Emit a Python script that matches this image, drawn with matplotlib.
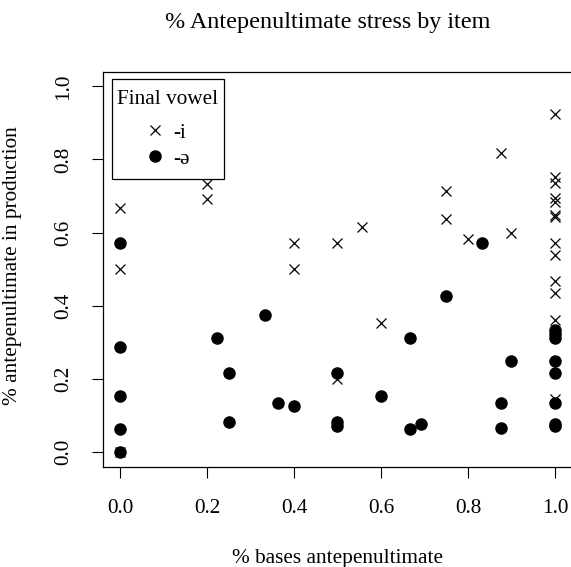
import matplotlib
matplotlib.use("Agg")
import matplotlib.pyplot as plt
from matplotlib.patches import Rectangle

plt.rcParams['font.family'] = ['Liberation Serif', 'DejaVu Serif']

# -i final vowel items (x = % bases antepenultimate, y = % antepenultimate in production)
i_x = [0, 0, 0, 0.2, 0.2, 0.4, 0.4, 0.5, 0.5, 0.556, 0.6, 0.75, 0.75, 0.8, 0.875, 0.9,
       1, 1, 1, 1, 1, 1, 1, 1, 1, 1, 1, 1, 1]
i_y = [0.667, 0.5, 0.0, 0.733, 0.692, 0.571, 0.5, 0.571, 0.2, 0.615, 0.353, 0.714, 0.637,
       0.583, 0.818, 0.6,
       0.925, 0.752, 0.735, 0.695, 0.684, 0.647, 0.643, 0.571, 0.540, 0.467, 0.434, 0.360, 0.146]

# -ə final vowel items
schwa_x = [0, 0, 0, 0, 0, 0.222, 0.25, 0.25, 0.333, 0.364, 0.4, 0.5, 0.5, 0.5, 0.6, 0.667,
           0.667, 0.692, 0.75, 0.833, 0.875, 0.875, 0.9,
           1, 1, 1, 1, 1, 1, 1, 1]
schwa_y = [0.572, 0.286, 0.153, 0.062, 0.0, 0.312, 0.215, 0.083, 0.375, 0.133, 0.126, 0.215,
           0.083, 0.070, 0.153, 0.312, 0.062, 0.077, 0.428, 0.572, 0.133, 0.067, 0.25,
           0.333, 0.324, 0.312, 0.25, 0.215, 0.133, 0.077, 0.070]

ticks = [0.0, 0.2, 0.4, 0.6, 0.8, 1.0]
tick_labels = ["0.0", "0.2", "0.4", "0.6", "0.8", "1.0"]
legend_labels = ["-i", "-ə"]

W, H = 571, 567
fig = plt.figure(figsize=(W / 100, H / 100), dpi=100)
L, R, T, B = 102.6, 572.4, 71.7, 466.7
ax = fig.add_axes([L / W, 1 - B / H, (R - L) / W, (B - T) / H])

ax.plot(i_x, i_y, linestyle='none', marker='x', markersize=7.4, markeredgewidth=0.9,
        color='black', label=legend_labels[0])
ax.plot(schwa_x, schwa_y, linestyle='none', marker='o', markersize=8.0,
        color='black', label=legend_labels[1])

ax.set_xlim(-0.04, 1.04)
ax.set_ylim(-0.04, 1.04)
ax.set_xticks(ticks)
ax.set_xticklabels(tick_labels)
ax.set_yticks(ticks)
ax.set_yticklabels(tick_labels, rotation=90, va='center')
fs = 15.3
ax.tick_params(axis='both', direction='out', length=7.9, width=0.8, labelsize=fs, color='black')
ax.tick_params(axis='x', pad=15.5)
ax.tick_params(axis='y', pad=13.5)
for s in ax.spines.values():
    s.set_linewidth(0.9)
    s.set_color('black')

fig.text(328 / W, 1 - 28.3 / H, "% Antepenultimate stress by item", ha='center', va='baseline',
         fontsize=17.4)
fig.text(337 / W, 1 - 563 / H, "% bases antepenultimate", ha='center', va='baseline', fontsize=fs)
fig.text(17 / W, 1 - 266 / H, "% antepenultimate in production", ha='center', va='baseline',
         rotation=90, rotation_mode='anchor', fontsize=fs)

leg = ax.legend(title="Final vowel", loc='upper left',
                bbox_to_anchor=(117.0 / W, 1 - 89.5 / H), bbox_transform=fig.transFigure,
                borderaxespad=0, fontsize=fs, title_fontsize=fs, frameon=False,
                borderpad=0, handlelength=0.885, handletextpad=0.45, labelspacing=0.3,
                alignment='center')
leg._legend_box.sep = 10.3
fig.patches.append(Rectangle((111.7 / W, 1 - 179 / H), 112.6 / W, 99.7 / H,
                             transform=fig.transFigure, fill=False, edgecolor='black',
                             linewidth=0.9, zorder=5))

fig.savefig("out.png", dpi=100)
